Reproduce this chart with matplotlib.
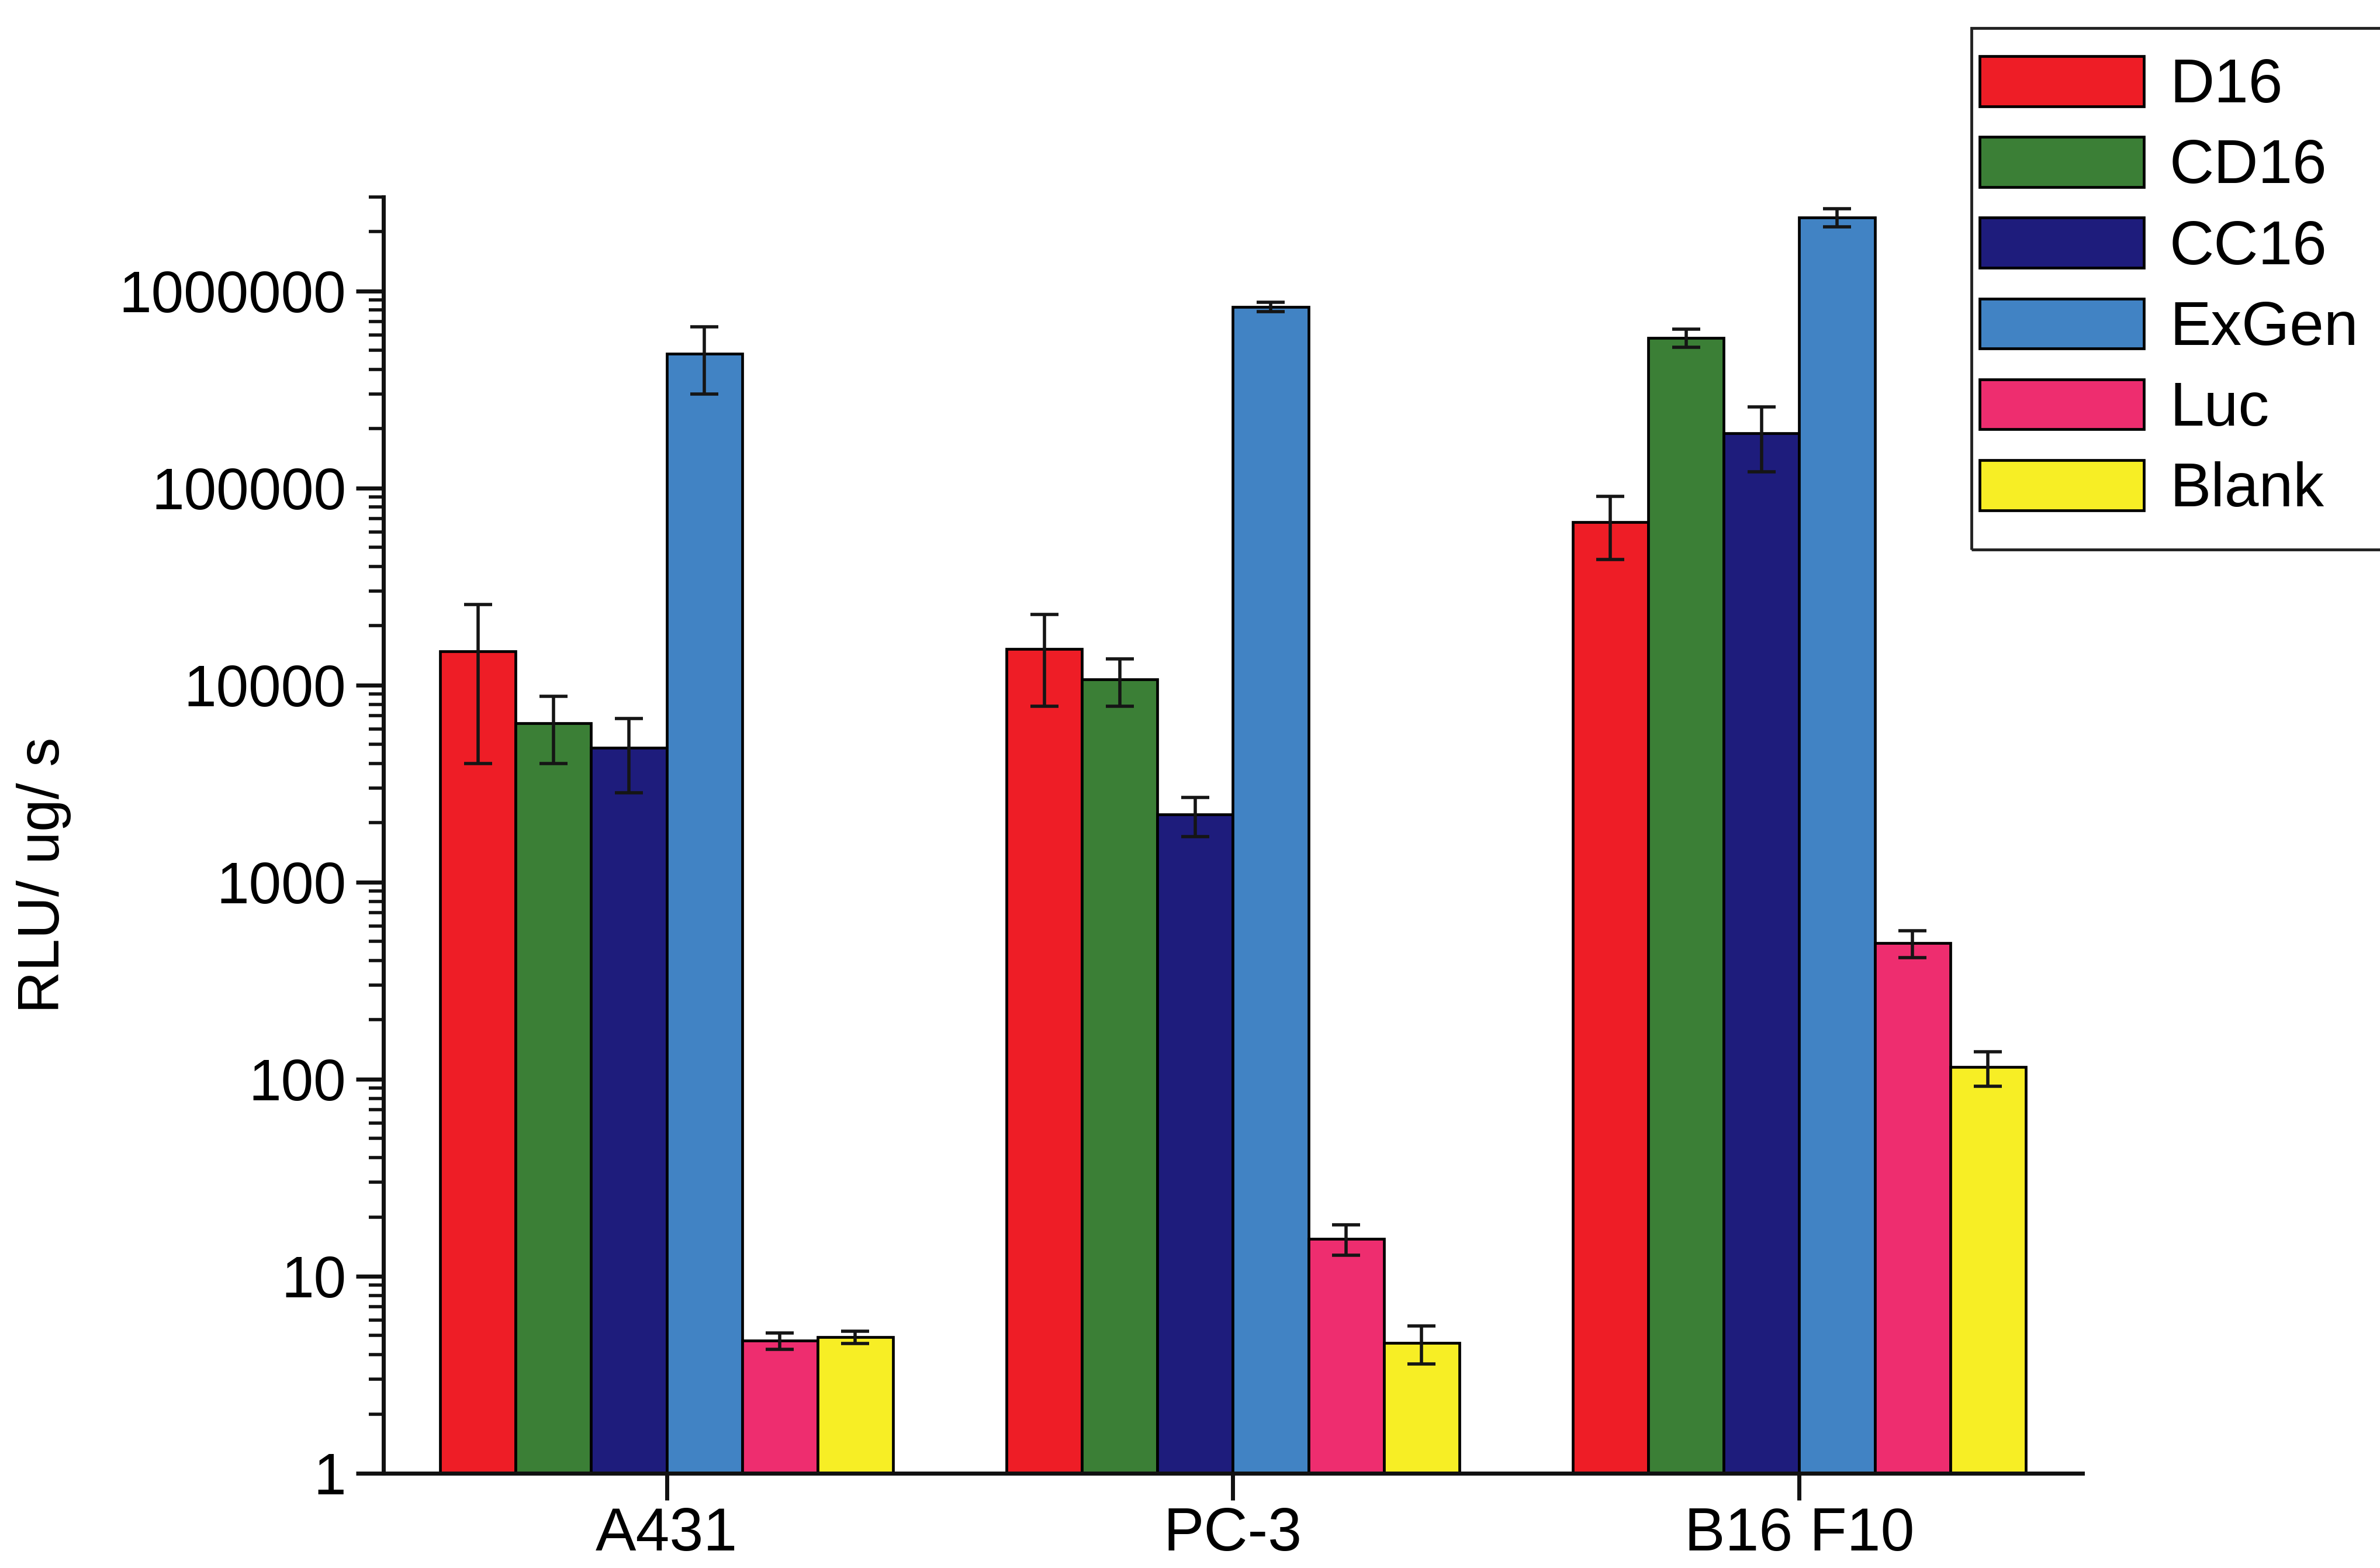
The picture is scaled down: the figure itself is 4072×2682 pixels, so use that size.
import matplotlib
matplotlib.use("Agg")
import matplotlib.pyplot as plt
from matplotlib.patches import Rectangle
from matplotlib.ticker import FixedLocator, FuncFormatter, NullFormatter
import numpy as np

plt.rcParams['font.family'] = ['Liberation Sans', 'DejaVu Sans']

# Cell lines and transfection agents
cell_lines = ["A431", "PC-3", "B16 F10"]
agents = ["D16", "CD16", "CC16", "ExGen", "Luc", "Blank"]

# Luciferase expression (RLU/ug/s), one list per agent across cell lines
d16 = [14800, 15300, 67000]
cd16 = [6400, 10700, 580000]
cc16 = [4800, 2200, 190000]
exgen = [480000, 830000, 2370000]
luc = [4.7, 15.5, 490]
blank = [4.9, 4.6, 115]

# Standard deviations
d16_err = [10800, 7500, 23600]
cd16_err = [2400, 2900, 60000]
cc16_err = [1950, 500, 69000]
exgen_err = [180000, 45000, 250000]
luc_err = [0.45, 2.7, 75]
blank_err = [0.35, 1.0, 23]

# Y-axis decades
y_major = [1, 10, 100, 1000, 10000, 100000, 1000000]

colors = ["#EE1D26", "#3B7F36", "#1E1C7C", "#4183C4", "#EE2D6F", "#F7EE25"]

series = [d16, cd16, cc16, exgen, luc, blank]
errors = [d16_err, cd16_err, cc16_err, exgen_err, luc_err, blank_err]

W, H = 4073, 2682
fig = plt.figure(figsize=(W / 100, H / 100), dpi=100)
ax = fig.add_axes([656 / W, 1 - 2520 / H, 2907 / W, (2520 - 337) / H])

x = np.arange(1, len(cell_lines) + 1)
bw = 0.8 / len(agents)
handles = []
for i, (name, vals, errs, col) in enumerate(zip(agents, series, errors, colors)):
    b = ax.bar(x + (i - 2.5) * bw, vals, width=bw, color=col, edgecolor="black",
               linewidth=3.4, yerr=errs, capsize=17, label=name, zorder=2,
               error_kw=dict(elinewidth=4, capthick=4, ecolor="#151515", zorder=3))
    handles.append(b)

ax.set_yscale("log")
ax.set_ylim(1, 3e6)
ax.set_xlim(0.5, 3.5)

minor = [m * d for d in y_major for m in range(2, 10) if m * d <= 3e6]
ax.yaxis.set_major_locator(FixedLocator(y_major))
ax.yaxis.set_minor_locator(FixedLocator(minor))
ax.yaxis.set_major_formatter(FuncFormatter(lambda v, p: f"{int(round(v))}"))
ax.yaxis.set_minor_formatter(NullFormatter())

ax.set_xticks(x)
ax.set_xticklabels(cell_lines)

for s in ["top", "right"]:
    ax.spines[s].set_visible(False)
for s in ["left", "bottom"]:
    ax.spines[s].set_linewidth(5)
    ax.spines[s].set_color("#111111")

ax.tick_params(axis="y", which="major", direction="out", length=34, width=5,
               labelsize=72, pad=12, color="#111111")
ax.tick_params(axis="y", which="minor", direction="out", length=18, width=4,
               color="#111111")
ax.tick_params(axis="x", which="major", direction="out", length=33, width=5,
               labelsize=75, pad=8, color="#111111")
ax.tick_params(axis="x", which="minor", length=0)

ax.set_ylabel("RLU/ ug/ s", fontsize=72)
ax.yaxis.set_label_coords(-0.1837, 0.4687)

# Legend drawn without its own frame; a separate box runs off the right edge
leg = fig.legend(handles=handles, labels=agents, loc="upper left",
                 bbox_to_anchor=(3387 / W, 1 - 96 / H), frameon=False,
                 fontsize=76, handlelength=2.66, handleheight=0.87,
                 handletextpad=0.42, labelspacing=0.35, borderpad=0,
                 borderaxespad=0)
for p in leg.get_patches():
    p.set_linewidth(3.4)
fig.patches.append(Rectangle((3373 / W, 1 - 940 / H), 0.3, (940 - 48) / H,
                             transform=fig.transFigure, fill=False,
                             edgecolor="#222222", linewidth=3.5))

fig.savefig("out.png", dpi=100, facecolor="white")
